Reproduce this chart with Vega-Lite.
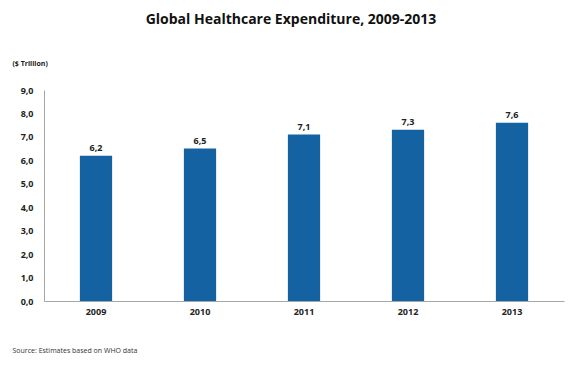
{
  "$schema": "https://vega.github.io/schema/vega-lite/v6.json",
  "width": 520,
  "height": 211,
  "autosize": {"type": "none"},
  "padding": {"left": 44, "top": 90, "right": 21, "bottom": 81},
  "background": "white",
  "title": {
    "text": "Global Healthcare Expenditure, 2009-2013",
    "anchor": "middle",
    "frame": "group",
    "offset": 32,
    "font": "Open Sans",
    "fontSize": 14,
    "fontWeight": "bold",
    "color": "#111111",
    "dx": -13
  },
  "data": {
    "values": [
      {"year": "2009", "value": 6.2, "label": "6,2"},
      {"year": "2010", "value": 6.5, "label": "6,5"},
      {"year": "2011", "value": 7.1, "label": "7,1"},
      {"year": "2012", "value": 7.3, "label": "7,3"},
      {"year": "2013", "value": 7.6, "label": "7,6"}
    ]
  },
  "encoding": {
    "x": {
      "field": "year",
      "type": "ordinal",
      "scale": {"paddingInner": 0.69, "paddingOuter": 0.345},
      "axis": {
        "labelAngle": 0,
        "ticks": false,
        "labelPadding": 6,
        "labelFont": "Open Sans",
        "labelFontSize": 9,
        "labelFontWeight": "bold",
        "labelColor": "#222222",
        "domainColor": "#a6a6a6",
        "title": "Source: Estimates based on WHO data",
        "titleFont": "Open Sans",
        "titleFontSize": 7,
        "titleFontWeight": "normal",
        "titleColor": "#333333",
        "titleAnchor": "start",
        "titleAlign": "left",
        "titleBaseline": "middle",
        "titleX": -32,
        "titleY": 49
      }
    },
    "y": {
      "field": "value",
      "type": "quantitative",
      "scale": {"domain": [0, 9], "nice": false},
      "axis": {
        "values": [0, 1, 2, 3, 4, 5, 6, 7, 8, 9],
        "labelExpr": "replace(format(datum.value, '.1f'), '.', ',')",
        "grid": false,
        "ticks": false,
        "labelPadding": 11,
        "labelFont": "Open Sans",
        "labelFontSize": 9,
        "labelFontWeight": "bold",
        "labelColor": "#222222",
        "domainColor": "#a6a6a6",
        "title": "($ Trillion)",
        "titleFont": "Open Sans",
        "titleFontSize": 7,
        "titleFontWeight": "bold",
        "titleColor": "#222222",
        "titleAngle": 0,
        "titleAlign": "left",
        "titleBaseline": "middle",
        "titleX": -32,
        "titleY": -27
      }
    }
  },
  "layer": [
    {"mark": {"type": "bar", "color": "#1462a2"}},
    {
      "mark": {"type": "text", "dy": -8, "font": "Open Sans", "fontSize": 9, "fontWeight": "bold", "color": "#222222"},
      "encoding": {"text": {"field": "label"}}
    }
  ],
  "config": {"view": {"stroke": null}}
}
